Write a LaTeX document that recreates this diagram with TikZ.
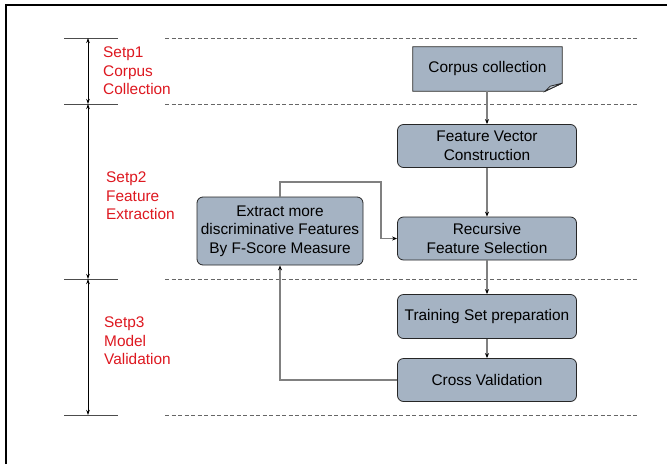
\documentclass[tikz,border=0pt]{standalone}
\usepackage{fontspec}
\setmainfont{Liberation Sans}
\usetikzlibrary{arrows.meta,backgrounds}
\definecolor{boxfill}{RGB}{165,179,195}
\definecolor{foldfill}{RGB}{200,208,218}
\definecolor{stepred}{RGB}{222,24,32}
\definecolor{linegray}{RGB}{128,128,128}
\begin{document}
\begin{tikzpicture}[x=1pt,y=-1pt,
  txt/.style={font=\fontsize{15.4}{18.5}\selectfont},
  box/.style={txt, draw=black!85, line width=0.8pt, fill=boxfill, rounded corners=6pt, align=center, inner sep=0pt, minimum width=179pt, minimum height=43pt},
  docshape/.style={draw=black!85, line width=0.8pt, fill=boxfill},
  conn/.style={draw=linegray, line width=1.2pt, -{Stealth[length=5pt,width=4pt,color=black]}},
  steplbl/.style={txt, text=stepred, align=left, anchor=west, inner sep=0pt},
  solidline/.style={draw=black!70, line width=1pt},
  dashline/.style={draw=black!60, line width=1pt, dash pattern=on 4pt off 2.5pt},
  dim/.style={draw=black, line width=0.8pt, {Stealth[length=5pt,width=3.5pt]}-{Stealth[length=5pt,width=3.5pt]}}
]
\useasboundingbox (0,0) rectangle (667,464);
\begin{scope}[on background layer]
  \fill[white] (0,0) rectangle (667,464);
\end{scope}
\draw[line width=2pt] (6,464) -- (6,5) -- (667,5);

% level lines
\foreach \yy in {38,104,279,415} {
  \draw[solidline] (64,\yy) -- (118,\yy);
  \draw[dashline] (165,\yy) -- (637,\yy);
}

% dimension arrows
\coordinate (d1) at (88,38);
\coordinate (d2) at (88,104);
\coordinate (d3) at (88,279);
\coordinate (d4) at (88,415);
\draw[dim] (d1) -- (d2);
\draw[dim] (d2) -- (d3);
\draw[dim] (d3) -- (d4);

% step labels
\node[steplbl] (s1) at (103,71) {Setp1\\Corpus\\Collection};
\node[steplbl] (s2) at (106,196) {Setp2\\Feature\\Extraction};
\node[steplbl] (s3) at (104,341) {Setp3\\Model\\Validation};

% corpus collection (document shape)
\node[txt, inner sep=0pt, minimum width=149pt, minimum height=44pt] (corpus) at (487.5,69) {Corpus collection};
\begin{scope}[on background layer]
  \draw[docshape] (corpus.north west) -- (corpus.north east) -- ([yshift=8pt]corpus.south east)
     -- ([xshift=-17pt]corpus.south east) -- (corpus.south west) -- cycle;
  \draw[docshape, fill=foldfill] ([xshift=-17pt]corpus.south east) -- ([xshift=-12pt,yshift=5pt]corpus.south east)
     -- ([yshift=8pt]corpus.south east) -- cycle;
\end{scope}

% boxes
\node[box] (fvc) at (487,146) {Feature Vector\\Construction};
\node[box] (rfs) at (487,238.5) {Recursive\\Feature Selection};
\node[box, minimum width=166pt, minimum height=68pt] (extract) at (280,231) {Extract more\\discriminative Features\\By F-Score Measure};
\node[box, minimum height=44pt] (tsp) at (487,316.5) {Training Set preparation};
\node[box, minimum height=43pt] (cv) at (487,380) {Cross Validation};

% connectors
\draw[conn] (corpus.south -| fvc.north) -- (fvc.north);
\draw[conn] (fvc) -- (rfs);
\draw[conn] (rfs) -- (tsp);
\draw[conn] (tsp) -- (cv);
\draw[conn] (cv.west) -| (extract.south);
\coordinate (bend) at (381,182);
\draw[conn] (extract.north) |- (bend) |- (rfs.west);
\end{tikzpicture}
\end{document}
